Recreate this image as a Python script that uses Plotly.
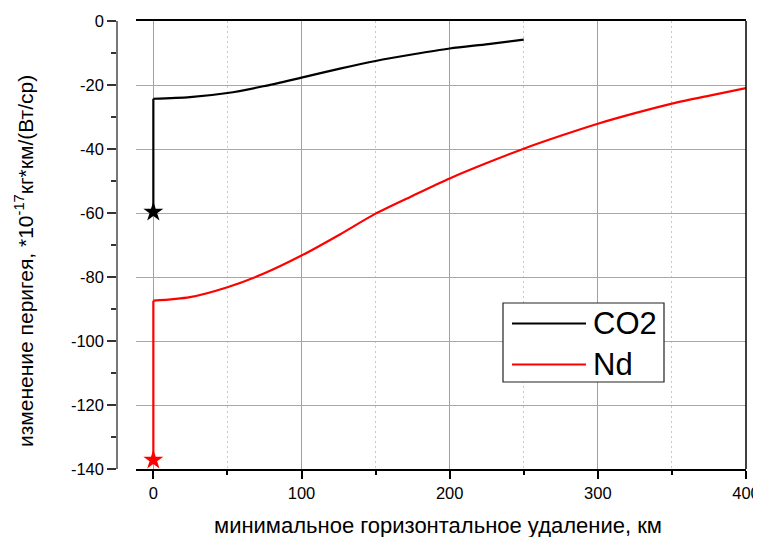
import plotly.graph_objects as go

# ---- data ----
co2_x = [0, 0, 24.7, 50, 74.2, 100, 125.9, 150, 175.5, 200, 226, 250]
co2_y = [-59.7, -24.3, -23.8, -22.5, -20.4, -17.7, -14.9, -12.5, -10.4, -8.6, -7.2, -5.8]

nd_x = [0, 0, 24.7, 50, 74.2, 100, 125.9, 150, 175.5, 200, 225, 250, 275.4, 300, 325.1, 350, 375.4, 400]
nd_y = [-137.2, -87.4, -86.3, -83.2, -79.0, -73.3, -66.7, -60.2, -54.5, -49.2, -44.4, -39.9,
        -35.8, -32.1, -28.8, -25.8, -23.3, -21.0]

x_tickvals = [0, 100, 200, 300, 400]
x_ticktext = ["0", "100", "200", "300", "400"]
y_tickvals = [0, -20, -40, -60, -80, -100, -120, -140]
y_ticktext = ["0", "-20", "-40", "-60", "-80", "-100", "-120", "-140"]

series_names = ["CO2", "Nd"]
series_colors = ["#000000", "#ff0000"]
x_title = "минимальное горизонтальное удаление, км"
y_title = "изменение перигея, *10<sup>-17</sup>кг*км/(Вт/ср)"

FONT = "Liberation Sans, Arial, sans-serif"

# the page body has an 8px margin, so the figure is sized to end at the window edge
OFF = 8
W, H = 761 - OFF, 537 - OFF
L, R, T, B = 109, 15, 13, 68
pw = W - L - R
ph = H - T - B


def px2paper_x(px_page):
    return (px_page - OFF - L) / pw


def px2paper_y(py_page):
    return (H - B - (py_page - OFF)) / ph


fig = go.Figure()
for name, xs, ys, col in [(series_names[0], co2_x, co2_y, series_colors[0]),
                          (series_names[1], nd_x, nd_y, series_colors[1])]:
    # initial vertical jump (straight)
    fig.add_trace(go.Scatter(x=xs[:2], y=ys[:2], mode="lines", name=name,
                             line=dict(color=col, width=2.2), showlegend=False))
    # smooth decay curve
    fig.add_trace(go.Scatter(x=xs[1:], y=ys[1:], mode="lines", name=name,
                             line=dict(color=col, width=2.2, shape="spline", smoothing=0.8),
                             showlegend=False))
    # star at the starting point
    fig.add_trace(go.Scatter(x=[xs[0]], y=[ys[0]], mode="markers", name=name,
                             marker=dict(symbol="star", size=15, color=col),
                             showlegend=False))

fig.update_layout(
    width=W, height=H,
    margin=dict(l=L, r=R, t=T, b=B, autoexpand=False),
    paper_bgcolor="white", plot_bgcolor="white",
    font=dict(family=FONT, color="black", size=16),
    xaxis=dict(
        domain=[px2paper_x(136), 1],
        range=[-11.7, 400],
        automargin=False,
        tickvals=x_tickvals, ticktext=x_ticktext,
        ticks="outside", ticklen=8, tickwidth=1.5, tickcolor="black",
        showline=True, linecolor="black", linewidth=1.5, mirror=True,
        showgrid=True, gridcolor="#a0a0a0", gridwidth=1,
        zeroline=False,
        minor=dict(dtick=50, tick0=0, ticks="outside", ticklen=4, tickcolor="black",
                   showgrid=True, gridcolor="#c8c8c8", griddash="2px,3px", gridwidth=1),
        tickfont=dict(size=16.5),
    ),
    yaxis=dict(
        anchor="free", position=0,
        range=[-140, 0],
        automargin=False,
        tickvals=y_tickvals, ticktext=y_ticktext,
        ticks="outside", ticklen=9, tickwidth=1.5, tickcolor="#333",
        showline=True, linecolor="#777", linewidth=1.5,
        showgrid=True, gridcolor="#a8a8a8", gridwidth=1,
        zeroline=False,
        minor=dict(dtick=10, tick0=0, ticks="outside", ticklen=5, tickcolor="#333",
                   showgrid=False),
        tickfont=dict(size=16.5),
    ),
)

# axis titles
fig.add_annotation(xref="paper", yref="paper", x=px2paper_x(438), y=px2paper_y(525),
                   text=x_title, showarrow=False, xanchor="center", yanchor="middle",
                   font=dict(size=22, color="black", family=FONT))
fig.add_annotation(xref="paper", yref="paper", x=px2paper_x(24), y=px2paper_y(261),
                   text=y_title, showarrow=False, xanchor="center", yanchor="middle",
                   textangle=-90, font=dict(size=21, color="black", family=FONT))

# right frame border
fig.add_shape(type="line", xref="paper", yref="paper", x0=1, x1=1, y0=0, y1=1,
              line=dict(color="black", width=1.5))

# legend box (drawn manually to match the reference layout)
fig.add_shape(type="rect", xref="paper", yref="paper",
              x0=px2paper_x(503), x1=px2paper_x(664), y0=px2paper_y(382), y1=px2paper_y(303),
              line=dict(color="#222", width=1.2), fillcolor="white", layer="above")
for i, ypx in enumerate([323.5, 364.5]):
    fig.add_shape(type="line", xref="paper", yref="paper",
                  x0=px2paper_x(512), x1=px2paper_x(586),
                  y0=px2paper_y(ypx), y1=px2paper_y(ypx),
                  line=dict(color=series_colors[i], width=2.2), layer="above")
    fig.add_annotation(xref="paper", yref="paper", x=px2paper_x(591), y=px2paper_y(ypx),
                       text=series_names[i], showarrow=False, xanchor="left", yanchor="middle",
                       font=dict(size=31, color="black", family=FONT))

fig.write_html("out.html")
